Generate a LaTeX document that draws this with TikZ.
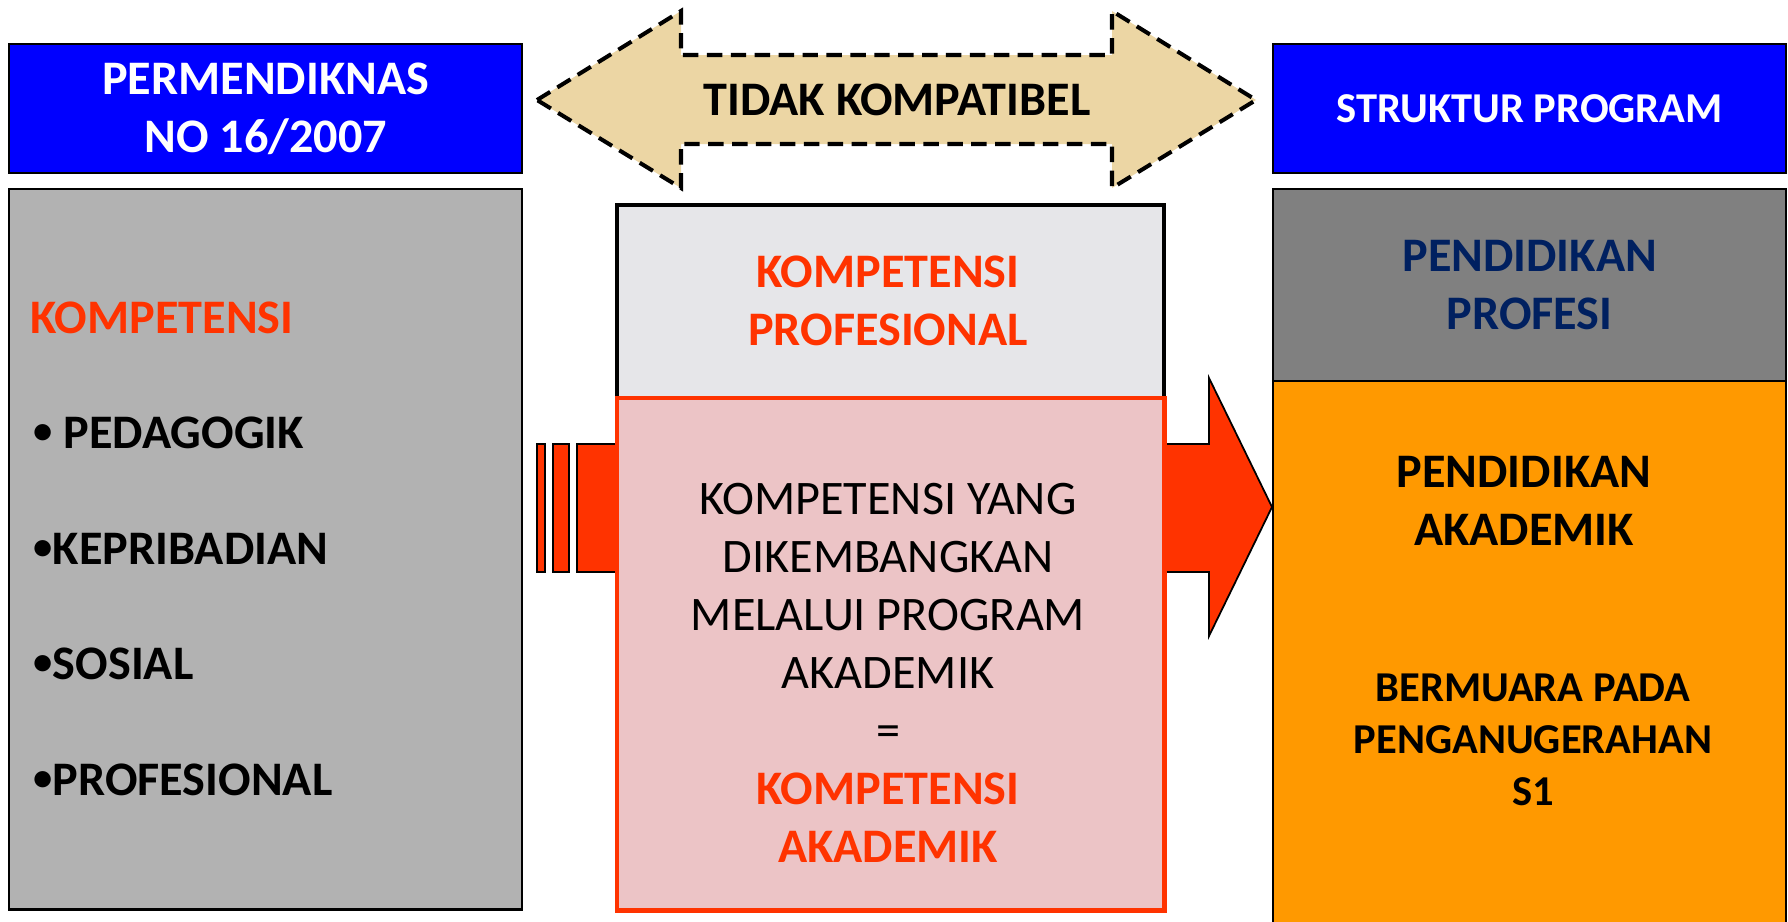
\documentclass[tikz,border=0pt]{standalone}
\usepackage{fontspec}
\setmainfont{Carlito}
\usetikzlibrary{calc,positioning}

\definecolor{boxBlue}{RGB}{0,0,255}
\definecolor{paneGray}{RGB}{178,178,178}
\definecolor{paneDark}{RGB}{128,128,128}
\definecolor{paneOrange}{RGB}{255,153,0}
\definecolor{compRed}{RGB}{255,51,0}
\definecolor{deepNavy}{RGB}{0,32,96}
\definecolor{papyrus}{RGB}{236,214,164}
\definecolor{marble}{RGB}{230,230,233}
\definecolor{rosePaper}{RGB}{236,196,198}

% Small bullet, as in the slide.
\newcommand\DOTMARK{\raisebox{0.1em}{\scalebox{0.8}{•}}}

\tikzset{
    panel/.style={draw,anchor=north west,inner sep=0pt,line width=0.6pt},
    heading/.style={font=\fontsize{13.7}{16.5}\selectfont\bfseries,align=center,inner sep=0pt},
    subheading/.style={font=\fontsize{12.1}{14.8}\selectfont\bfseries,align=center,inner sep=0pt},
    plaintext/.style={font=\fontsize{13.7}{16.5}\selectfont,align=center,inner sep=0pt},
    compat arrow/.style={fill=papyrus,draw=black,line width=1.15pt,dash pattern=on 4.4pt off 2.4pt},
    red arrow/.style={fill=compRed,draw=black,line width=0.5pt},
}

\begin{document}
\begin{tikzpicture}[x=0.01cm,y=-0.01cm]
    \useasboundingbox (0,0) rectangle (1788,921);

    % Headers.
    \node[panel,fill=boxBlue,minimum width=5.13cm,minimum height=1.29cm] (permen) at (8,43) {};
    \node[heading,text=white] (permenText) at (permen.center) {PERMENDIKNAS\\NO 16/2007};
    \node[panel,fill=boxBlue,minimum width=5.13cm,minimum height=1.29cm] (struktur) at (1272,43) {};
    \node[subheading,text=white] (strukturText) at (struktur.center) {STRUKTUR PROGRAM};

    % Double arrow between the headers.
    \draw[compat arrow] (537,100) -- (681,11) -- (681,55) -- (1112,55) -- (1112,11)
        -- (1256,100) -- (1112,188) -- (1112,144) -- (681,144) -- (681,188) -- cycle;
    \node[heading] (compat) at (897,100) {TIDAK KOMPATIBEL};

    % Left column: list of competences.
    \node[panel,fill=paneGray,minimum width=5.13cm,minimum height=7.20cm] (permenBox) at (8,188) {};
    \node[heading,text=compRed,anchor=west] (kompetensi) at (30,318) {KOMPETENSI};
    \foreach \name/\y/\t in {ped/433/{\DOTMARK\ PEDAGOGIK},kep/549/{\DOTMARK KEPRIBADIAN},
                             sos/664/{\DOTMARK SOSIAL},pro/780/{\DOTMARK PROFESIONAL}}
    {
        \node[heading,anchor=west] (\name) at (33,\y) {\t};
    }

    % Red arrow, mostly hidden behind the middle box.
    \foreach \xa/\xb in {537/545,553/569}
    {
        \draw[red arrow] (\xa,444) rectangle (\xb,572);
    }
    \coordinate (tip) at (1272,507);
    \draw[red arrow] (577,444) -- (1209,444) -- (1209,378) -- (tip)
        -- (1209,636) -- (1209,572) -- (577,572) -- cycle;

    % Middle column.
    \node[panel,fill=marble,line width=1pt,minimum width=5.47cm,minimum height=1.93cm] (profBox) at (615,203) {};
    \node[heading,text=compRed] (profText) at (888,301) {KOMPETENSI\\PROFESIONAL};
    \node[panel,fill=rosePaper,draw=compRed,line width=1.2pt,minimum width=5.47cm,minimum height=5.12cm] (akadBox) at (615,396) {};
    \node[plaintext] (akadText) at (888,673) {KOMPETENSI YANG\\DIKEMBANGKAN\\MELALUI PROGRAM\\AKADEMIK\\=\\
        \textcolor{compRed}{\bfseries KOMPETENSI}\\\textcolor{compRed}{\bfseries AKADEMIK}};

    % Right column: programme structure.
    \node[panel,fill=paneDark,minimum width=5.13cm,minimum height=1.92cm] (profesi) at (1272,188) {};
    \node[heading,text=deepNavy] (profesiText) at (profesi.center) {PENDIDIKAN\\PROFESI};
    \node[panel,fill=paneOrange,minimum width=5.13cm,minimum height=5.50cm] (akademik) at (1272,380) {};
    \node[heading] (akademikText) at (1524,501) {PENDIDIKAN\\AKADEMIK};
    \node[subheading] (sarjana) at (1533,740) {BERMUARA PADA\\PENGANUGERAHAN\\S1};
\end{tikzpicture}
\end{document}
